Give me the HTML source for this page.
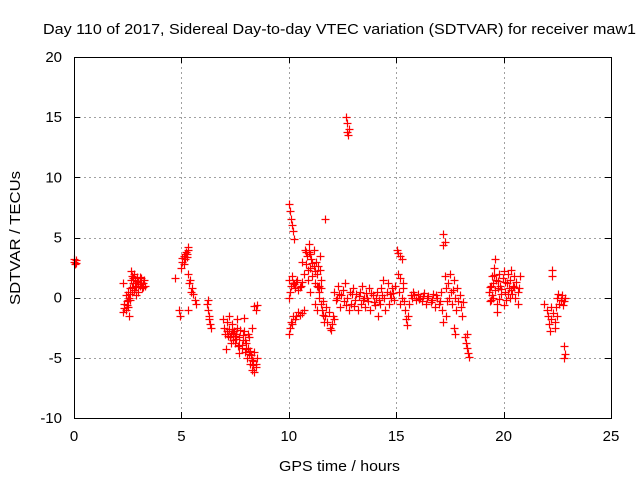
<!DOCTYPE html>
<html><head><meta charset="utf-8"><style>
html,body{margin:0;padding:0;background:#fff}
svg text{font-family:"Liberation Sans",sans-serif;font-size:15px;fill:#000}
</style></head><body>
<svg id="chart" width="640" height="480">
<text x="43" y="34" textLength="593" lengthAdjust="spacingAndGlyphs" font-size="15.5">Day 110 of 2017, Sidereal Day-to-day VTEC variation (SDTVAR) for receiver maw1</text>
<text transform="translate(20,238) rotate(-90)" text-anchor="middle" textLength="134" lengthAdjust="spacingAndGlyphs">SDTVAR / TECUs</text>
<text x="279" y="471" textLength="121" lengthAdjust="spacingAndGlyphs">GPS time / hours</text>
<g id="grid"></g><g id="ticks"></g><g id="pts"></g>
<rect x="74.5" y="57.5" width="537" height="361" fill="none" stroke="#000" stroke-width="1"/>
</svg>
<script>
const xTicks=[0,5,10,15,20,25];
const yTicks=[-10,-5,0,5,10,15,20];
const hours=[0,0.05,0.1,0.02,0.08,
2.3,2.35,2.4,2.4,2.45,2.5,2.5,2.55,2.6,2.6,2.65,2.7,2.7,2.75,2.8,2.8,2.85,2.9,2.95,3.0,3.0,3.05,3.1,3.15,3.2,3.25,3.3,2.55,2.3,2.65,2.9,
2.35,2.45,2.5,2.6,2.7,2.75,2.85,2.95,3.05,3.1,3.2,
4.7,4.9,4.95,5.0,5.05,5.1,5.15,5.2,5.25,5.3,5.1,5.3,5.35,5.4,5.45,5.5,5.55,5.65,5.7,5.3,5.3,5.05,5.15,5.25,
6.2,6.25,6.3,6.35,6.3,6.4,6.25,
6.95,7.0,7.05,7.1,7.15,7.2,7.3,7.35,7.4,7.45,7.5,7.55,7.6,7.65,7.7,7.75,7.8,7.85,7.9,7.95,8.0,8.05,8.1,8.15,8.2,8.25,8.3,8.35,8.4,8.45,8.5,8.4,7.2,7.6,7.9,8.4,8.45,8.5,7.3,7.7,8.1,8.3,7.08,
7.1,7.25,7.4,7.55,7.7,7.85,8.0,8.15,8.3,8.45,7.35,7.5,7.8,7.95,8.2,8.35,
10.0,10.05,10.1,10.15,10.2,10.25,10.0,10.0,10.05,10.1,10.15,10.2,10.3,10.4,10.5,10.6,10.0,10.05,10.1,10.2,10.3,10.45,10.6,10.7,
10.25,10.35,10.45,10.55,10.15,10.35,10.5,
10.6,10.7,10.75,10.8,10.85,10.9,10.95,11.0,11.05,11.1,11.15,11.2,11.25,11.3,11.35,11.4,11.45,11.5,11.0,11.2,11.3,11.4,11.5,11.55,11.6,11.7,11.7,11.8,11.9,12.0,12.05,12.1,11.75,11.85,
10.8,10.9,11.0,11.1,11.2,11.3,11.4,11.5,10.95,11.15,11.35,11.45,11.6,11.65,11.95,
12.65,12.7,12.7,12.75,12.8,
12.1,12.2,12.3,12.35,12.4,12.5,12.55,12.6,12.7,12.8,12.85,12.9,13.0,13.1,13.15,13.2,13.3,13.35,13.4,13.5,13.55,13.6,13.7,13.75,13.8,13.9,14.0,14.1,14.15,14.2,14.3,14.4,14.45,14.5,14.55,14.6,14.65,14.7,14.8,14.9,14.95,
12.25,12.45,12.65,12.95,13.05,13.25,13.45,13.65,13.85,13.95,14.05,14.25,14.35,14.75,14.85,
15.05,15.1,15.2,15.25,15.1,15.2,15.3,15.15,15.2,15.25,15.3,15.35,
15.4,15.45,15.5,15.55,15.6,15.7,15.8,15.9,16.0,16.1,16.2,16.3,16.4,16.5,16.6,16.7,16.8,16.9,17.0,17.1,17.15,17.2,
15.75,15.85,16.05,16.25,16.45,16.65,16.85,17.05,
17.2,17.25,17.2,17.25,17.3,17.35,17.4,17.5,17.55,17.6,17.7,17.75,17.8,17.85,17.9,18.0,18.05,18.1,17.7,17.75,17.3,
17.45,17.65,17.95,
18.2,18.25,18.3,18.35,18.3,18.4,
19.3,19.35,19.4,19.45,19.5,19.55,19.6,19.65,19.7,19.7,19.75,19.8,19.85,19.9,19.95,20.0,20.05,20.1,20.15,20.2,20.25,20.3,20.35,20.4,20.45,20.5,20.55,20.6,20.65,20.7,20.75,19.5,19.6,19.4,20.0,
19.35,19.55,19.75,19.9,20.05,20.2,20.35,20.5,20.65,19.45,19.8,20.3,
21.9,22.0,22.05,22.1,22.15,22.2,22.2,22.25,22.25,22.3,22.4,22.45,22.5,22.55,22.6,22.65,22.7,22.75,22.8,22.85,22.8,22.85,22.8,22.5,22.4];
const sdtvar=[3.0,2.8,3.1,3.2,2.9,
-1.2,-0.5,0.2,-1.0,-0.3,0.5,-0.8,0.0,0.8,-0.2,1.5,0.9,1.8,1.2,2.0,0.6,1.5,1.0,1.7,1.3,0.5,1.0,1.6,0.8,1.2,1.5,1.0,-1.5,1.2,2.2,0.2,
-0.9,-0.6,-0.2,0.3,0.5,1.6,0.9,1.4,1.7,1.1,0.9,
1.6,-1.0,-1.5,2.5,3.0,3.5,3.2,3.8,3.6,4.0,2.8,2.0,1.2,1.5,0.5,0.8,0.3,-0.2,-0.5,-1.0,4.2,3.3,3.6,3.4,
-0.5,-1.0,-1.8,-2.2,-1.5,-2.5,-0.2,
-1.8,-2.5,-3.0,-2.0,-3.2,-2.6,-3.0,-2.2,-3.5,-2.8,-3.8,-3.0,-2.5,-4.0,-3.3,-2.7,-4.2,-3.5,-2.8,-4.5,-3.8,-5.0,-4.2,-3.3,-5.5,-4.8,-6.0,-5.3,-4.5,-5.8,-5.0,-6.2,-1.5,-1.8,-1.7,-0.7,-1.0,-0.6,-3.8,-4.6,-3.0,-2.5,-4.3,
-2.8,-3.3,-2.9,-3.4,-3.9,-3.1,-4.3,-4.7,-5.2,-5.5,-2.6,-3.2,-3.9,-3.5,-4.4,-5.6,
7.8,7.2,6.5,6.0,5.5,4.9,1.5,0.0,0.5,1.0,1.8,1.2,0.8,1.5,0.9,1.3,-3.0,-2.5,-2.0,-1.5,-1.8,-1.2,-1.3,-1.0,
1.1,1.3,0.6,1.0,-2.2,-1.5,-1.4,
3.0,2.0,4.0,2.8,3.5,1.5,4.5,2.5,3.2,1.8,4.0,2.2,3.0,1.0,2.6,0.5,3.5,1.5,0.5,-0.5,-1.0,0.0,-0.5,-1.0,-0.3,6.5,-1.5,-2.0,-2.5,-2.2,-1.5,-1.8,-0.8,-1.2,
3.8,2.3,3.6,2.9,1.2,2.0,1.0,0.8,3.8,2.6,0.9,2.3,-1.4,-2.0,-2.7,
15.0,14.5,13.8,13.5,14.0,
0.5,-0.2,1.0,0.3,-0.8,0.6,-0.3,1.2,0.0,-1.0,0.5,-0.5,0.8,-0.2,0.3,-1.0,0.5,-0.5,1.0,0.0,-0.8,0.4,-0.3,0.8,-1.0,0.2,-0.6,0.5,-1.5,-0.2,0.8,1.5,0.0,-1.0,0.5,1.2,-0.5,0.3,0.8,-0.2,1.0,
0.0,0.2,-0.6,0.3,-0.7,0.1,-0.2,0.0,0.4,-0.4,0.0,-0.5,0.2,0.0,0.4,
4.0,3.7,3.5,3.2,2.0,1.6,1.2,0.5,-0.5,0.0,0.8,-0.3,
-1.0,-1.8,-2.3,-1.5,-0.5,0.2,0.5,-0.2,0.3,0.0,-0.3,0.4,-0.5,0.1,-0.4,0.3,-0.8,0.0,-0.5,0.5,-1.0,-2.0,
0.0,0.2,-0.1,0.1,0.0,-0.2,0.2,-0.3,
5.3,4.6,4.4,1.8,0.8,-0.3,1.2,2.0,0.5,-0.5,1.5,0.0,-1.0,0.8,-0.3,-0.8,-1.5,-0.4,-2.5,-3.0,-1.5,
0.0,0.6,0.2,
-3.3,-3.8,-4.2,-4.6,-3.0,-4.9,
0.5,-0.3,1.0,1.8,0.0,2.5,3.2,1.5,-0.5,-1.2,0.8,2.0,1.0,0.3,1.6,2.2,0.5,-0.2,1.2,2.0,0.8,1.5,2.3,0.3,1.0,1.8,0.0,1.3,-0.5,0.8,1.8,1.2,0.6,-0.2,-0.6,
0.9,1.9,1.4,0.7,1.3,0.3,0.6,0.9,0.5,0.2,-0.1,0.0,
-0.5,-1.0,-1.5,-2.2,-2.8,-1.8,-0.8,2.3,1.8,-1.3,-2.5,-0.8,0.0,0.3,-0.5,-0.2,0.2,-0.6,-0.3,0.0,-4.0,-4.7,-5.0,-1.5,-2.0];
const X0=74,X1=611,Y0=418,Y1=57;
function sx(h){return X0+(h-0)/(25-0)*(X1-X0);}
function sy(v){return Y0-(v+10)/(20+10)*(Y0-Y1);}
const NS='http://www.w3.org/2000/svg';
const grid=document.getElementById('grid'),ticks=document.getElementById('ticks'),pts=document.getElementById('pts');
function mk(t,a){const e=document.createElementNS(NS,t);for(const k in a)e.setAttribute(k,a[k]);return e;}
xTicks.forEach(t=>{const x=Math.round(sx(t))+0.5;
 if(t>0&&t<25){const g=mk('line',{x1:x,y1:Y1,x2:x,y2:Y0,stroke:'#a0a0a0','stroke-dasharray':'2,3'});
 
 grid.appendChild(g);}
 const l=mk('text',{x:sx(t),y:Y0+23,'text-anchor':'middle'});l.textContent=t;
 
 ticks.appendChild(l);
 ticks.appendChild(mk('line',{x1:x,y1:Y0,x2:x,y2:Y0-6,stroke:'#000'}));
 ticks.appendChild(mk('line',{x1:x,y1:Y1,x2:x,y2:Y1+6,stroke:'#000'}));
});
yTicks.forEach(t=>{const y=Math.round(sy(t))+0.5;
 if(t>-10&&t<20){const g=mk('line',{x1:X0,y1:y,x2:X1,y2:y,stroke:'#a0a0a0','stroke-dasharray':'2,3'});
 
 grid.appendChild(g);}
 const l=mk('text',{x:X0-12,y:sy(t)+5,'text-anchor':'end'});l.textContent=t;
 
 ticks.appendChild(l);
 ticks.appendChild(mk('line',{x1:X0,y1:y,x2:X0+6,y2:y,stroke:'#000'}));
 ticks.appendChild(mk('line',{x1:X1,y1:y,x2:X1-6,y2:y,stroke:'#000'}));
});
let d='';
for(let i=0;i<hours.length;i++){const x=Math.round(sx(hours[i]))+0.5,y=Math.round(sy(sdtvar[i]))+0.5;
 d+=`M${x-4},${y}H${x+4}M${x},${y-4}V${y+4}`;}
const p=mk('path',{d:d,stroke:'#ff0000','stroke-width':1.2,fill:'none'});


pts.appendChild(p);
</script>
</body></html>
